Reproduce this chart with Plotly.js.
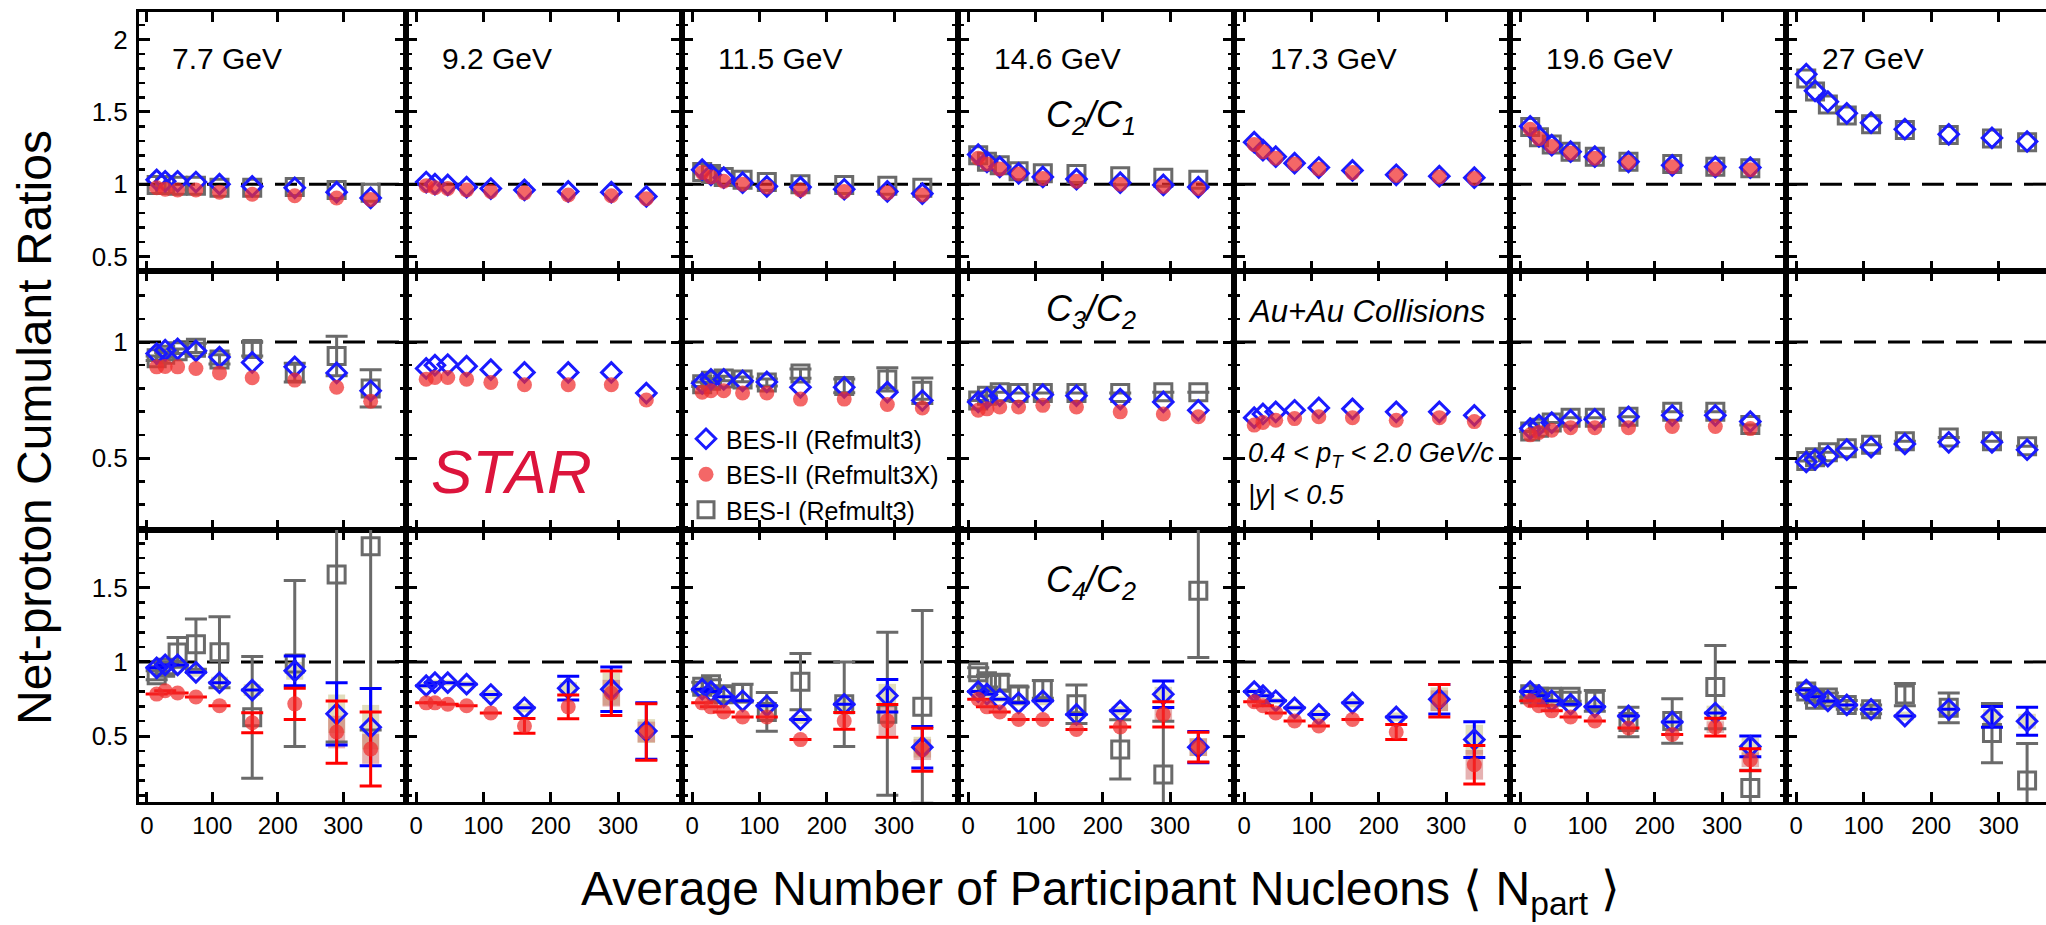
<!DOCTYPE html>
<html>
<head>
<meta charset="utf-8">
<script src="https://cdn.plot.ly/plotly-3.0.1.min.js"></script>
<style>html,body{margin:0;padding:0;background:#fff;}#plot{width:2046px;height:925px;}</style>
</head>
<body>
<div id="plot"></div>
<script>
// ---------------- DATA ----------------
const ENERGIES = ['7.7 GeV', '9.2 GeV', '11.5 GeV', '14.6 GeV', '17.3 GeV', '19.6 GeV', '27 GeV'];
const NPART = [15, 28, 47, 75, 111, 161, 226, 290, 342];
const UNITY = 1;

// C2/C1
const C2C1_BES2 = [
  [1.03, 1.02, 1.02, 1.015, 1.0, 0.985, 0.975, 0.945, 0.905],
  [1.015, 1.0, 0.995, 0.98, 0.97, 0.96, 0.95, 0.945, 0.915],
  [1.10, 1.065, 1.045, 1.01, 0.985, 0.98, 0.965, 0.95, 0.935],
  [1.205, 1.155, 1.12, 1.075, 1.05, 1.035, 1.01, 0.995, 0.98],
  [1.29, 1.235, 1.19, 1.145, 1.115, 1.095, 1.065, 1.055, 1.045],
  [1.40, 1.33, 1.27, 1.225, 1.19, 1.155, 1.13, 1.12, 1.115],
  [1.76, 1.645, 1.57, 1.49, 1.425, 1.38, 1.345, 1.32, 1.295]
];
const C2C1_BES2X = [
  [0.975, 0.965, 0.96, 0.96, 0.945, 0.93, 0.92, 0.905, 0.895],
  [0.99, 0.975, 0.97, 0.96, 0.95, 0.94, 0.925, 0.92, 0.90],
  [1.08, 1.05, 1.02, 1.0, 0.98, 0.96, 0.95, 0.94, 0.925],
  [1.18, 1.14, 1.105, 1.07, 1.04, 1.02, 1.0, 0.985, 0.97],
  [1.275, 1.225, 1.18, 1.14, 1.105, 1.08, 1.06, 1.05, 1.04],
  [1.38, 1.315, 1.26, 1.215, 1.18, 1.15, 1.12, 1.105, 1.10],
  null
];
const C2C1_BES1 = [
  [0.995, 0.995, 0.99, 0.99, 0.975, 0.975, 0.98, 0.96, 0.94],
  null,
  [1.085, 1.07, 1.05, 1.03, 1.015, 1.0, 0.995, 0.99, 0.975],
  [1.2, 1.155, 1.13, 1.09, 1.075, 1.07, 1.055, 1.045, 1.03],
  null,
  [1.395, 1.325, 1.275, 1.225, 1.19, 1.155, 1.14, 1.12, 1.11],
  [1.73, 1.64, 1.55, 1.475, 1.415, 1.375, 1.34, 1.315, 1.29]
];

// C3/C2
const C3C2_BES2 = [
  [0.95, 0.965, 0.97, 0.962, 0.935, 0.912, 0.893, 0.867, 0.79],
  [0.886, 0.90, 0.903, 0.896, 0.881, 0.869, 0.869, 0.869, 0.78],
  [0.822, 0.839, 0.839, 0.833, 0.828, 0.805, 0.805, 0.784, 0.748],
  [0.742, 0.758, 0.769, 0.765, 0.773, 0.769, 0.754, 0.742, 0.706],
  [0.674, 0.69, 0.699, 0.706, 0.716, 0.712, 0.699, 0.699, 0.684],
  [0.627, 0.642, 0.653, 0.663, 0.667, 0.678, 0.684, 0.684, 0.657],
  [0.483, 0.494, 0.508, 0.536, 0.547, 0.561, 0.568, 0.568, 0.536]
];
const C3C2_BES2X = [
  [0.893, 0.895, 0.893, 0.886, 0.867, 0.846, 0.836, 0.805, 0.745],
  [0.84, 0.847, 0.847, 0.84, 0.826, 0.816, 0.816, 0.816, 0.75],
  [0.784, 0.79, 0.79, 0.78, 0.78, 0.754, 0.754, 0.731, 0.716],
  [0.706, 0.712, 0.72, 0.72, 0.727, 0.72, 0.699, 0.69, 0.678],
  [0.642, 0.653, 0.663, 0.67, 0.678, 0.674, 0.663, 0.674, 0.657],
  [0.60, 0.61, 0.62, 0.631, 0.631, 0.631, 0.636, 0.636, 0.627],
  null
];
const C3C2_BES1 = [
  [0.93, 0.945, 0.96, 0.975, 0.925, 0.97, 0.868, 0.94, 0.80],
  null,
  [0.818, 0.833, 0.843, 0.839, 0.826, 0.864, 0.811, 0.839, 0.79],
  [0.748, 0.769, 0.784, 0.78, 0.78, 0.78, 0.78, 0.784, 0.784],
  null,
  [0.614, 0.631, 0.653, 0.674, 0.674, 0.678, 0.699, 0.699, 0.642],
  [0.487, 0.504, 0.525, 0.542, 0.557, 0.572, 0.589, 0.572, 0.551]
];
const C3C2_BES1_ERR = [
  [0.01, 0.01, 0.01, 0.02, 0.02, 0.03, 0.04, 0.085, 0.08],
  null,
  [0.01, 0.01, 0.01, 0.01, 0.015, 0.02, 0.03, 0.05, 0.055],
  [0, 0, 0, 0, 0, 0, 0, 0, 0],
  null,
  [0, 0, 0, 0, 0, 0, 0, 0, 0],
  [0, 0, 0, 0, 0, 0, 0, 0, 0]
];

// C4/C2
const C4C2_BES2 = [
  [0.96, 0.98, 0.98, 0.93, 0.86, 0.81, 0.94, 0.65, 0.56],
  [0.84, 0.86, 0.86, 0.85, 0.78, 0.69, 0.823, 0.816, 0.534],
  [0.816, 0.80, 0.765, 0.738, 0.704, 0.612, 0.714, 0.772, 0.425],
  [0.80, 0.782, 0.748, 0.724, 0.738, 0.646, 0.67, 0.782, 0.425],
  [0.80, 0.772, 0.738, 0.69, 0.646, 0.724, 0.629, 0.748, 0.476],
  [0.80, 0.772, 0.738, 0.714, 0.697, 0.636, 0.595, 0.655, 0.43],
  [0.81, 0.765, 0.737, 0.71, 0.68, 0.635, 0.68, 0.63, 0.60]
];
const C4C2_BES2_ERR = [
  [0, 0, 0, 0, 0, 0, 0.1, 0.21, 0.26],
  [0, 0, 0, 0, 0, 0, 0.08, 0.15, 0.19],
  [0, 0, 0, 0, 0, 0, 0, 0.11, 0.14],
  [0, 0, 0, 0, 0, 0, 0, 0.09, 0.105],
  [0, 0, 0, 0, 0, 0, 0, 0.1, 0.12],
  [0, 0, 0, 0, 0, 0, 0, 0, 0.07],
  [0, 0, 0, 0, 0, 0, 0, 0.07, 0.095]
];
const C4C2_BES2_SYS = [
  [0.02, 0.02, 0.02, 0.03, 0.04, 0.04, 0.06, 0.13, 0.15],
  [0.02, 0.02, 0.02, 0.02, 0.03, 0.03, 0.04, 0.11, 0.08],
  [0.02, 0.02, 0.02, 0.02, 0.03, 0.03, 0.04, 0.08, 0.07],
  [0.02, 0.02, 0.02, 0.02, 0.03, 0.03, 0.03, 0.05, 0.06],
  [0.02, 0.02, 0.02, 0.02, 0.03, 0.03, 0.03, 0.08, 0.10],
  [0.02, 0.02, 0.02, 0.02, 0.03, 0.03, 0.03, 0.05, 0.06],
  [0.02, 0.02, 0.02, 0.02, 0.03, 0.03, 0.04, 0.05, 0.05]
];
const C4C2_BES2X = [
  [0.783, 0.806, 0.79, 0.763, 0.705, 0.59, 0.717, 0.527, 0.413],
  [0.724, 0.724, 0.714, 0.704, 0.656, 0.568, 0.697, 0.789, 0.527],
  [0.724, 0.697, 0.663, 0.629, 0.629, 0.476, 0.602, 0.602, 0.408],
  [0.748, 0.697, 0.663, 0.612, 0.612, 0.544, 0.561, 0.646, 0.425],
  [0.731, 0.704, 0.656, 0.602, 0.568, 0.612, 0.527, 0.738, 0.306],
  [0.738, 0.704, 0.67, 0.629, 0.602, 0.554, 0.51, 0.56, 0.34],
  null
];
const C4C2_BES2X_ERR = [
  [0, 0, 0, 0, 0, 0.067, 0.106, 0.21, 0.25],
  [0, 0, 0, 0, 0, 0.05, 0.08, 0.15, 0.19],
  [0, 0, 0, 0, 0, 0, 0.056, 0.11, 0.145],
  [0, 0, 0, 0, 0, 0, 0, 0.085, 0.1],
  [0, 0, 0, 0, 0, 0, 0.05, 0.11, 0.13],
  [0, 0, 0, 0, 0, 0, 0, 0.06, 0.075],
  null
];
const C4C2_BES2X_SYS = [
  [0, 0, 0, 0, 0, 0, 0, 0.11, 0.10],
  [0, 0, 0, 0, 0, 0, 0, 0.09, 0.07],
  [0, 0, 0, 0, 0, 0, 0, 0.10, 0.07],
  [0, 0, 0, 0, 0, 0, 0, 0.05, 0.06],
  [0, 0, 0, 0, 0, 0, 0, 0.07, 0.10],
  [0, 0, 0, 0, 0, 0, 0, 0.04, 0.05],
  null
];
const C4C2_BES1 = [
  [0.91, 0.96, 1.064, 1.12, 1.065, 0.626, 0.99, 1.59, 1.78],
  null,
  [0.833, 0.85, 0.782, 0.79, 0.663, 0.867, 0.715, 0.65, 0.697],
  [0.93, 0.87, 0.86, 0.78, 0.815, 0.715, 0.41, 0.24, 1.48],
  null,
  [0.782, 0.765, 0.765, 0.765, 0.738, 0.595, 0.602, 0.83, 0.15],
  [0.80, 0.745, 0.76, 0.71, 0.68, 0.78, 0.69, 0.52, 0.20]
];
const C4C2_BES1_ERR = [
  [0.03, 0.04, 0.1, 0.17, 0.24, 0.41, 0.56, 1.13, 1.24],
  null,
  [0.03, 0.03, 0.05, 0.06, 0.13, 0.19, 0.285, 0.55, 0.65],
  [0.03, 0.04, 0.05, 0.05, 0.06, 0.13, 0.2, 0.36, 0.45],
  null,
  [0.02, 0.02, 0.03, 0.03, 0.07, 0.1, 0.15, 0.28, 0.12],
  [0.02, 0.02, 0.03, 0.03, 0.03, 0.075, 0.1, 0.2, 0.25]
];

const RATIO_LABELS = ['<i>C<sub>2</sub>/C<sub>1</sub></i>', '<i>C<sub>3</sub>/C<sub>2</sub></i>', '<i>C<sub>4</sub>/C<sub>2</sub></i>'];
const LEGEND_NAMES = ['BES-II (Refmult3)', 'BES-II (Refmult3X)', 'BES-I (Refmult3)'];

// ---------------- LAYOUT GEOMETRY ----------------
const W = 2046, H = 925;
const COL_EDGES = [139, 406, 682, 958, 1234, 1510, 1786, 2046];
const ROW_EDGES = [12, 271, 530, 802];
const X_RANGES = [[-12, 396], [-15, 395], [-15, 395], [-15, 395], [-15, 395], [-15, 395], [-15, 370]];
const Y_RANGES = [[0.40, 2.19], [0.19, 1.306], [0.055, 1.89]];

const FONT = 'Liberation Sans, Arial, Helvetica, sans-serif';
const BLUE = '#1a1aff', RED = 'rgba(240,45,45,0.72)', GREY = '#6a6a6a';

const rows = [
  {b2: C2C1_BES2, b2x: C2C1_BES2X, b1: C2C1_BES1},
  {b2: C3C2_BES2, b2x: C3C2_BES2X, b1: C3C2_BES1, b1err: C3C2_BES1_ERR},
  {b2: C4C2_BES2, b2err: C4C2_BES2_ERR, b2sys: C4C2_BES2_SYS, b2x: C4C2_BES2X, b2xerr: C4C2_BES2X_ERR, b2xsys: C4C2_BES2X_SYS, b1: C4C2_BES1, b1err: C4C2_BES1_ERR}
];

const traces = [];
const layout = {
  width: W, height: H,
  margin: {l: 0, r: 0, t: 0, b: 0},
  paper_bgcolor: '#fff', plot_bgcolor: 'rgba(0,0,0,0)',
  font: {family: FONT, color: '#000'},
  barmode: 'overlay',
  showlegend: true,
  legend: {x: 686 / W, y: 1 - 416 / H, xanchor: 'left', yanchor: 'top',
           font: {size: 25, family: FONT}, bgcolor: 'rgba(0,0,0,0)', itemwidth: 30, tracegroupgap: 0},
  shapes: [], annotations: []
};

function errObj(arr, color) {
  return arr ? {type: 'data', array: arr, visible: true, color: color, thickness: 3, width: 11} : {visible: false};
}

for (let r = 0; r < 3; r++) {
  for (let c = 0; c < 7; c++) {
    const k = r * 7 + c + 1;
    const xs = k === 1 ? '' : String(k);
    const xa = 'x' + xs, ya = 'y' + xs;
    layout['xaxis' + xs] = {
      domain: [COL_EDGES[c] / W, COL_EDGES[c + 1] / W],
      range: X_RANGES[c], anchor: ya,
      showline: true, linecolor: '#000', linewidth: 3, mirror: 'allticks',
      ticks: 'inside', ticklen: 10, tickwidth: 3, tickcolor: '#000',
      tickvals: [0, 100, 200, 300], ticktext: ['0', '100', '200', '300'],
      showticklabels: r === 2, tickfont: {size: 24, family: FONT},
      showgrid: false, zeroline: false, fixedrange: true
    };
    layout['yaxis' + xs] = {
      domain: [1 - ROW_EDGES[r + 1] / H, 1 - ROW_EDGES[r] / H],
      range: Y_RANGES[r], anchor: xa,
      showline: true, linecolor: '#000', linewidth: 3, mirror: c === 6 ? false : 'allticks',
      ticks: 'inside', ticklen: 11, tickwidth: 3, tickcolor: '#000',
      tick0: 0, dtick: 0.5,
      minor: {dtick: 0.1, ticks: 'inside', ticklen: 6, tickwidth: 2.5, tickcolor: '#000', showgrid: false},
      showticklabels: c === 0, tickfont: {size: 26, family: FONT}, ticklabelstandoff: 3,
      showgrid: false, zeroline: false, fixedrange: true
    };
    layout.shapes.push({type: 'line', xref: xa + ' domain', yref: ya, x0: 0, x1: 1, y0: UNITY, y1: UNITY,
                        line: {color: '#000', width: 3, dash: '22px,12px'}, layer: 'below'});

    const d = rows[r];
    const first = (k === 1);
    if (d.b2sys && d.b2sys[c]) {
      traces.push({type: 'bar', x: NPART, base: d.b2[c].map((v, i) => v - d.b2sys[c][i]),
        y: d.b2sys[c].map(s => 2 * s), width: 26, xaxis: xa, yaxis: ya, showlegend: false,
        marker: {color: 'rgba(205,198,145,0.6)', line: {width: 0}}, hoverinfo: 'skip'});
    }
    if (d.b2xsys && d.b2xsys[c]) {
      traces.push({type: 'bar', x: NPART, base: d.b2x[c].map((v, i) => v - d.b2xsys[c][i]),
        y: d.b2xsys[c].map(s => 2 * s), width: 26, xaxis: xa, yaxis: ya, showlegend: false,
        marker: {color: 'rgba(200,85,85,0.45)', line: {width: 0}}, hoverinfo: 'skip'});
    }
    if (d.b1[c]) {
      traces.push({type: 'scatter', mode: 'markers', x: NPART, y: d.b1[c], xaxis: xa, yaxis: ya,
        name: LEGEND_NAMES[2], legendrank: 3, showlegend: first,
        marker: {symbol: 'square-open', size: 17, color: GREY, line: {width: 3, color: GREY}},
        error_y: errObj(d.b1err ? d.b1err[c] : null, GREY)});
    }
    traces.push({type: 'scatter', mode: 'markers', x: NPART, y: d.b2[c], xaxis: xa, yaxis: ya,
      name: LEGEND_NAMES[0], legendrank: 1, showlegend: first,
      marker: {symbol: 'diamond-open', size: 15, color: BLUE, line: {width: 3, color: BLUE}},
      error_y: errObj(d.b2err ? d.b2err[c] : null, '#0000ff')});
    if (d.b2x[c]) {
      traces.push({type: 'scatter', mode: 'markers', x: NPART, y: d.b2x[c], xaxis: xa, yaxis: ya,
        name: LEGEND_NAMES[1], legendrank: 2, showlegend: first,
        marker: {symbol: 'circle', size: 15, color: RED, line: {width: 0}},
        error_y: errObj(d.b2xerr ? d.b2xerr[c] : null, '#ff0000')});
    }
    if (r === 0) {
      layout.annotations.push({xref: 'paper', yref: 'paper', x: (COL_EDGES[c] + (c === 0 ? 31 : 34)) / W, y: 1 - 58 / H,
        xanchor: 'left', yanchor: 'middle', text: ENERGIES[c], showarrow: false, font: {size: 30, family: FONT}});
    }
  }
}

const RATIO_Y = [117, 311, 582];
RATIO_LABELS.forEach((t, r) => layout.annotations.push({xref: 'paper', yref: 'paper', x: 1091 / W, y: 1 - RATIO_Y[r] / H,
  xanchor: 'center', yanchor: 'middle', text: t, showarrow: false, font: {size: 36, family: FONT}}));

layout.annotations.push(
  {xref: 'paper', yref: 'paper', x: 511 / W, y: 1 - 471 / H, xanchor: 'center', yanchor: 'middle',
   text: '<i>STAR</i>', showarrow: false, font: {size: 62, family: FONT, color: '#DC143C'}},
  {xref: 'paper', yref: 'paper', x: 1246 / W, y: 1 - 311 / H, xanchor: 'left', yanchor: 'middle',
   text: '<i>Au+Au Collisions</i>', showarrow: false, font: {size: 31, family: FONT}},
  {xref: 'paper', yref: 'paper', x: 1246 / W, y: 1 - 455 / H, xanchor: 'left', yanchor: 'middle',
   text: '<i>0.4 &lt; p<sub>T</sub> &lt; 2.0 GeV/c</i>', showarrow: false, font: {size: 27, family: FONT}},
  {xref: 'paper', yref: 'paper', x: 1246 / W, y: 1 - 495 / H, xanchor: 'left', yanchor: 'middle',
   text: '<i>|y| &lt; 0.5</i>', showarrow: false, font: {size: 27, family: FONT}},
  {xref: 'paper', yref: 'paper', x: 1100 / W, y: 1 - 892 / H, xanchor: 'center', yanchor: 'middle',
   text: 'Average Number of Participant Nucleons \u27E8 N<sub>part</sub> \u27E9', showarrow: false, font: {size: 48, family: FONT}},
  {xref: 'paper', yref: 'paper', x: 35 / W, y: 1 - 428 / H, xanchor: 'center', yanchor: 'middle', textangle: -90,
   text: 'Net-proton Cumulant Ratios', showarrow: false, font: {size: 48, family: FONT}}
);

Plotly.newPlot('plot', traces, layout, {staticPlot: true, displayModeBar: false});
</script>
</body>
</html>
